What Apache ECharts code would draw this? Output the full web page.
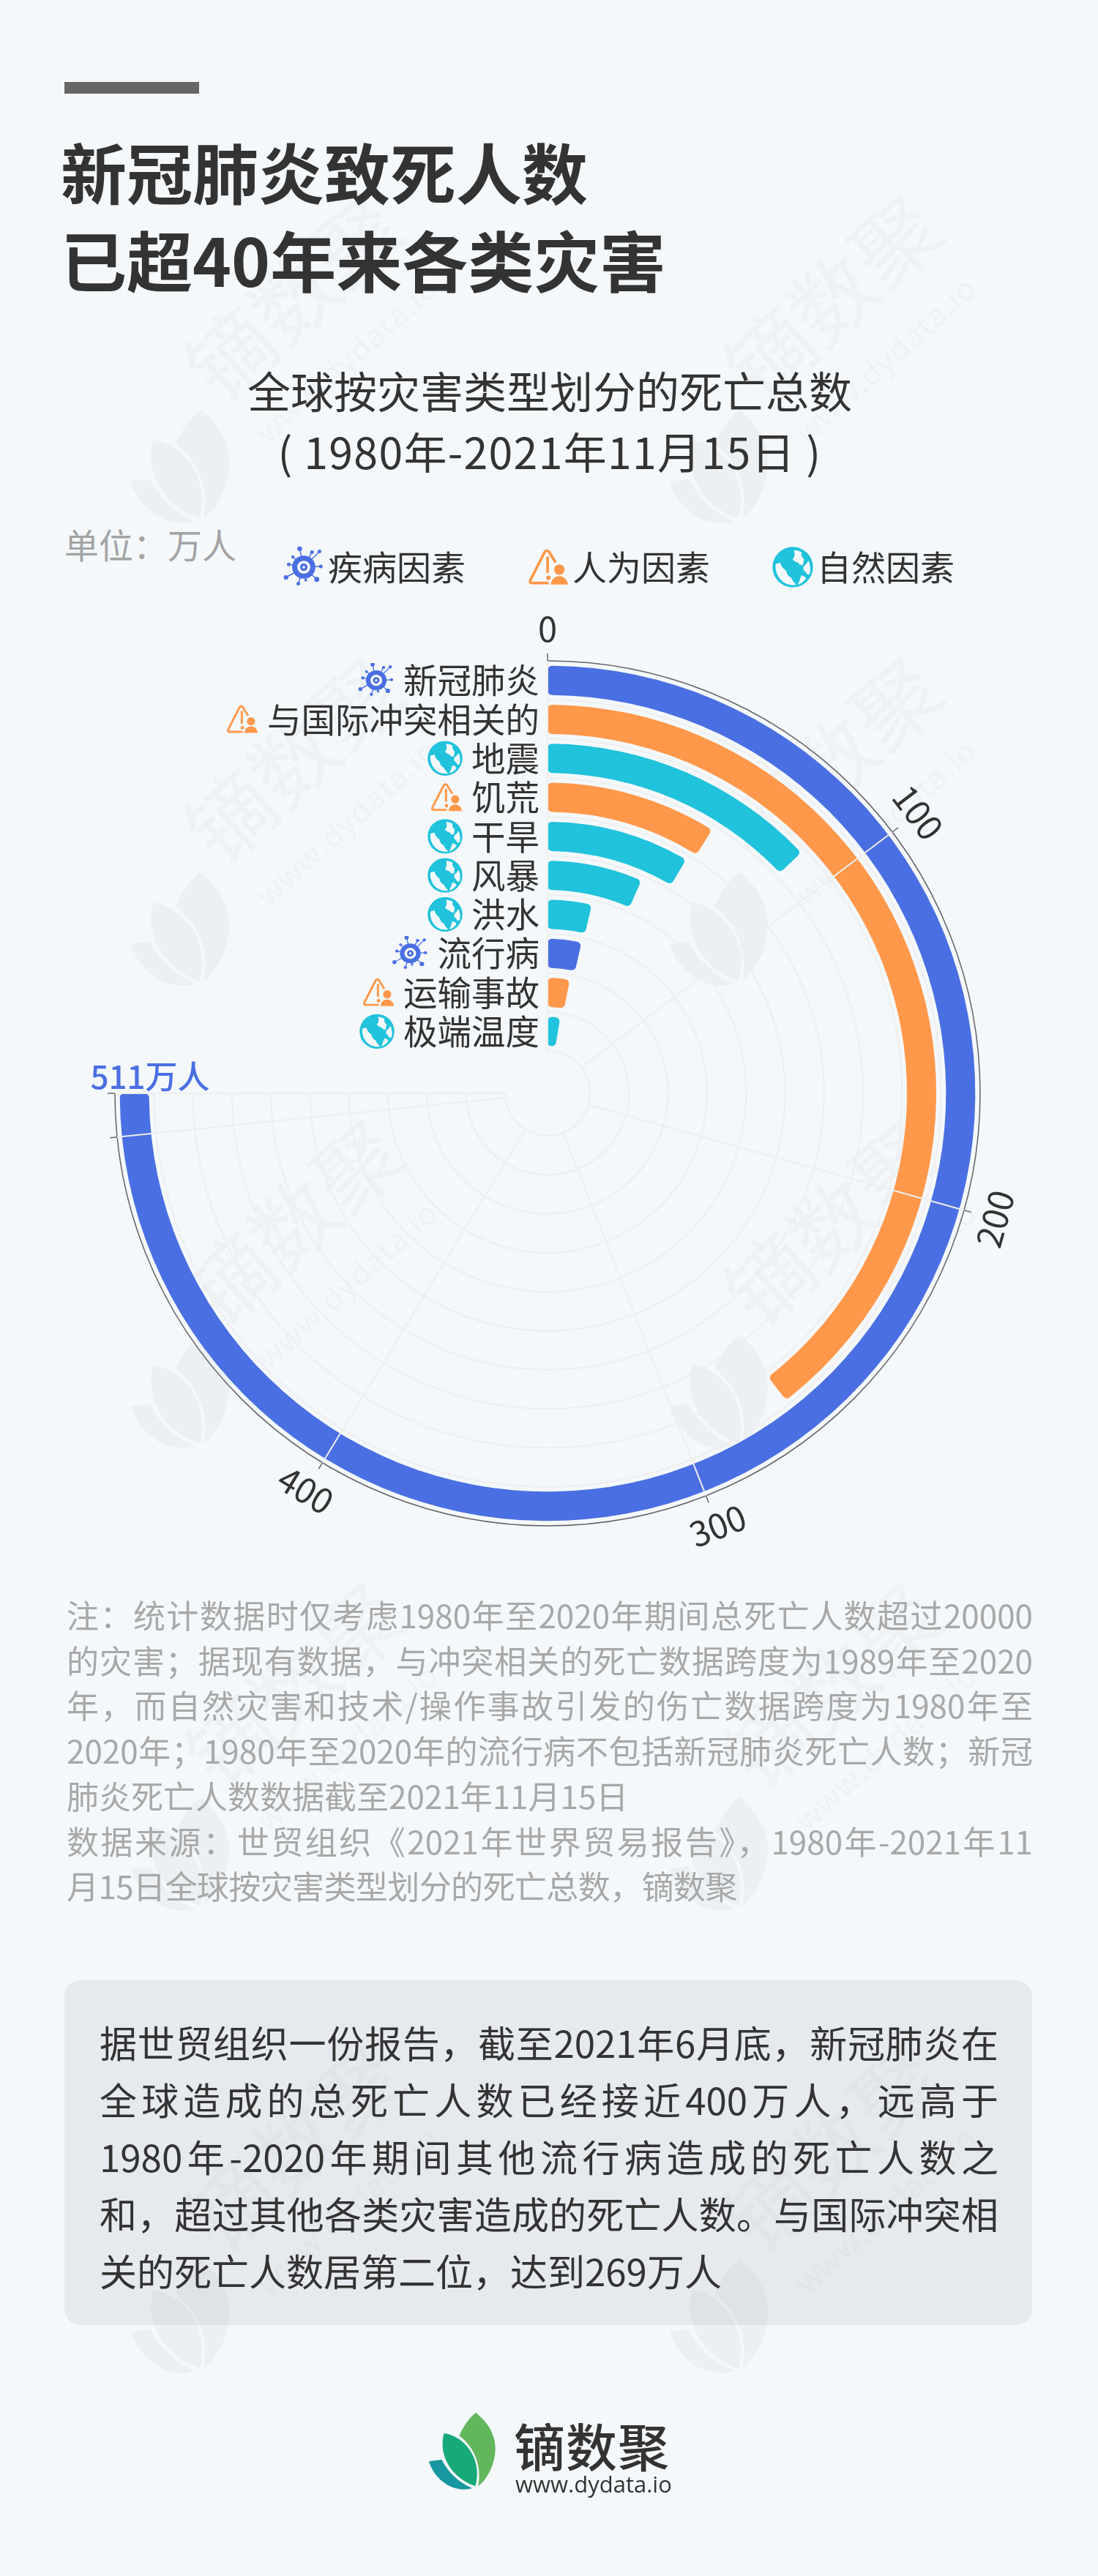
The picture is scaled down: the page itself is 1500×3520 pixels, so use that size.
<!DOCTYPE html>
<html lang="zh-CN">
<head>
<meta charset="utf-8">
<title>新冠肺炎致死人数已超40年来各类灾害</title>
<script src="https://cdn.jsdelivr.net/npm/echarts@6/dist/echarts.min.js"></script>
<style>
html,body{margin:0;padding:0;background:#f4f8fb;}
body{position:relative;width:1500px;height:3520px;overflow:hidden;font-family:"Noto Sans CJK SC","Noto Sans",sans-serif;color:#333;}
#wm,#main{position:absolute;left:0;top:0;width:1500px;height:3520px;}
.abs{position:absolute;white-space:nowrap;}
.bar{left:88px;top:112px;width:184px;height:16px;background:#666;}
.title{left:83px;font-size:90px;font-weight:700;line-height:120px;color:#333;}
.sub{left:0;width:1502px;text-align:center;font-size:59px;line-height:84px;color:#333;}
.unit{left:88px;top:713px;font-size:47px;line-height:60px;color:#a3a3a3;}
.note{left:91px;top:2176px;width:1320px;font-size:44px;line-height:61.7px;color:#a8a8a8;}
.box{left:88px;top:2706px;width:1322px;height:471px;background:rgba(120,125,130,.115);border-radius:22px;}
.say{left:136px;top:2751px;width:1228px;font-size:51px;line-height:78px;color:#333;}
.j{display:block;text-align:justify;text-align-last:justify;white-space:normal;}
.l{display:block;}
.logot{left:702px;top:3293px;font-size:70px;font-weight:500;line-height:96px;letter-spacing:1px;color:#333;}
.logou{left:704px;top:3372px;font-family:"Open Sans","Noto Sans",sans-serif;font-size:31px;line-height:44px;color:#333;}
</style>
</head>
<body>
<div id="wm"></div>
<div class="abs bar"></div>
<div class="abs title" style="top:173px">新冠肺炎致死人数</div>
<div class="abs title" style="top:293px">已超40年来各类灾害</div>
<div class="abs sub" style="top:491px">全球按灾害类型划分的死亡总数</div>
<div class="abs sub" style="top:574px;letter-spacing:1.3px">( 1980年-2021年11月15日 )</div>
<div class="abs unit">单位：万人</div>
<div id="main"></div>
<div class="abs note">
<span class="j">注：统计数据时仅考虑1980年至2020年期间总死亡人数超过20000</span>
<span class="j">的灾害；据现有数据，与冲突相关的死亡数据跨度为1989年至2020</span>
<span class="j">年，而自然灾害和技术/操作事故引发的伤亡数据跨度为1980年至</span>
<span class="j">2020年；1980年至2020年的流行病不包括新冠肺炎死亡人数；新冠</span>
<span class="l">肺炎死亡人数数据截至2021年11月15日</span>
<span class="j">数据来源：世贸组织《2021年世界贸易报告》，1980年-2021年11</span>
<span class="l" style="letter-spacing:-.6px">月15日全球按灾害类型划分的死亡总数，镝数聚</span>
</div>
<div class="abs box"></div>
<div class="abs say">
<span class="j">据世贸组织一份报告，截至2021年6月底，新冠肺炎在</span>
<span class="j">全球造成的总死亡人数已经接近400万人，远高于</span>
<span class="j">1980年-2020年期间其他流行病造成的死亡人数之</span>
<span class="j">和，超过其他各类灾害造成的死亡人数。与国际冲突相</span>
<span class="l">关的死亡人数居第二位，达到269万人</span>
</div>
<svg class="abs" style="left:570px;top:3280px" width="360" height="140" viewBox="0 0 1080 420">
<path fill="#62b75c" d="M240 50C290 90 320 140 320 195C320 260 290 320 250 352C262 290 250 205 172 145C190 105 210 75 240 50Z"/>
<path fill="#17a97a" d="M110 135C180 145 240 210 245 290C246 315 243 335 238 352C170 330 110 270 104 190C103 170 105 150 110 135Z"/>
<path fill="#1797a0" d="M48 250L100 243C130 300 170 335 225 360C200 368 170 367 140 355C95 335 60 295 48 250Z"/>
</svg>
<div class="abs logot">镝数聚</div>
<div class="abs logou">www.dydata.io</div>
<script>
var categories = ['新冠肺炎','与国际冲突相关的','地震','饥荒','干旱','风暴','洪水','流行病','运输事故','极端温度'];
var values = [511,269,88,60.5,58,45,25,24,21,18];
var types = ['疾病因素','人为因素','自然因素','人为因素','自然因素','自然因素','自然因素','疾病因素','人为因素','自然因素'];
var typeNames = ['疾病因素','人为因素','自然因素'];
var typeColors = ['#4a6fe3','#ff984a','#21c2db'];
var tickLabels = [0,100,200,300,400];

var FONT = '"Noto Sans CJK SC","Noto Sans",sans-serif';
var OUTER_R = 591;
var ANGLE_MAX = values[0];
var ANGLE_SWEEP = 270;

function svgUrl(s){
    return 'data:image/svg+xml;charset=utf-8,'+encodeURIComponent(s);
}
var virusBalls = [[24,3,3.5],[42,8,2.7],[53,7,2.7],[14,15,2.3],[8,26,2.7],[55,29,2.7],[4,45,3.3],[22,54,2.7],[33,49,2],[49,48,3.7]];
var virusSvg = '<svg xmlns="http://www.w3.org/2000/svg" width="120" height="120" viewBox="0 0 60 60"><g fill="#4a6fe3" stroke="#4a6fe3" stroke-width="1.6">';
virusBalls.forEach(function(b){
    virusSvg += '<line x1="30" y1="30" x2="'+b[0]+'" y2="'+b[1]+'"/><circle cx="'+b[0]+'" cy="'+b[1]+'" r="'+b[2]+'" stroke="none"/>';
});
virusSvg += '<circle cx="30" cy="30" r="17" stroke="none"/><circle cx="30" cy="30" r="9.5" fill="#fff" stroke="none"/><circle cx="30" cy="30" r="5.5" stroke="none"/><circle cx="30" cy="30" r="2" fill="#fff" stroke="none"/></g></svg>';

var warnSvg = '<svg xmlns="http://www.w3.org/2000/svg" width="165" height="150" viewBox="20 22 165 150">'
    +'<path d="M130 75L106 36Q97 24 88 36L30 150Q26 161 38 161L100 161" fill="none" stroke="#ff984a" stroke-width="11" stroke-linecap="round" stroke-linejoin="round"/>'
    +'<line x1="100" y1="58" x2="100" y2="116" stroke="#ff984a" stroke-width="11" stroke-linecap="round"/>'
    +'<circle cx="103" cy="140" r="9" fill="#ff984a"/><circle cx="147" cy="107" r="21" fill="#ff984a"/>'
    +'<path d="M112 167C116 145 130 133 147 133C164 133 178 145 182 167Z" fill="#ff984a"/></svg>';

var globeSvg = '<svg xmlns="http://www.w3.org/2000/svg" width="170" height="170" viewBox="0 0 170 170">'
    +'<circle cx="85" cy="85" r="84" fill="#21c2db"/>'
    +'<path d="M90 16C100 14 112 18 122 24C118 34 122 42 132 52C128 62 132 70 124 78C116 72 110 76 108 66C100 64 92 62 84 52C92 46 96 34 90 16Z" fill="#f4f8fb"/>'
    +'<path d="M14 72C24 68 28 70 34 66C36 80 46 92 58 100C60 112 66 124 78 128C84 142 92 150 100 158C70 164 40 150 24 122C16 106 12 88 14 72Z" fill="#f4f8fb"/>'
    +'<path d="M150 58C158 74 160 96 156 112C150 118 144 118 138 104C126 96 126 86 136 76C142 72 146 66 150 58Z" fill="#f4f8fb"/>'
    +'<path d="M120 120C130 118 136 124 140 132C130 146 118 154 106 158C112 146 116 132 120 120Z" fill="#f4f8fb"/>'
    +'</svg>';

var typeIcons = {'疾病因素':svgUrl(virusSvg),'人为因素':svgUrl(warnSvg),'自然因素':svgUrl(globeSvg)};
var iconKey = {'疾病因素':'virus','人为因素':'warn','自然因素':'globe'};

// 水印
function drawWatermark(){
    var leaf = '<path d="M240 50C290 90 320 140 320 195C320 260 290 320 250 352C262 290 250 205 172 145C190 105 210 75 240 50Z"/><path d="M110 135C180 145 240 210 245 290C246 315 243 335 238 352C170 330 110 270 104 190C103 170 105 150 110 135Z"/><path d="M48 250L100 243C130 300 170 335 225 360C200 368 170 367 140 355C95 335 60 295 48 250Z"/>';
    var html = '';
    for(var r=0;r<5;r++){
        for(var c=0;c<2;c++){
            var dx = c*736, dy = r*632;
            html += '<svg class="abs" style="left:'+(179+dx)+'px;top:'+(558+dy)+'px" width="134" height="159" viewBox="48 50 272 317" fill="#ecf0f3">'+leaf+'</svg>';
            html += '<div class="abs" style="left:'+(397+dx)+'px;top:'+(402+dy)+'px;font-size:116px;line-height:116px;color:#eff2f5;transform:translate(-50%,-50%) rotate(-42deg)">镝数聚</div>';
            html += '<div class="abs" style="left:'+(474+dx)+'px;top:'+(491+dy)+'px;font-family:\'Open Sans\',sans-serif;font-size:42px;line-height:42px;letter-spacing:2px;color:#eff2f5;transform:translate(-50%,-50%) rotate(-42deg)">www.dydata.io</div>';
        }
    }
    document.getElementById('wm').innerHTML = html;
}
drawWatermark();

function labelRotate(v){
    var a = v/ANGLE_MAX*ANGLE_SWEEP;
    return a<=90 ? -a : 180-a;
}

var series = typeNames.map(function(name,k){
    return {
        name:name,
        type:'bar',
        coordinateSystem:'polar',
        polarIndex:0,
        stack:'total',
        barWidth:40,
        data:values.map(function(v,i){ return types[i]==name ? v : null; }),
        itemStyle:{color:typeColors[k],borderRadius:6}
    };
});

// 刻度文字：随角度旋转
series.push({
    name:'tickText',
    type:'scatter',
    coordinateSystem:'polar',
    polarIndex:1,
    clip:false,
    silent:true,
    symbolSize:1,
    itemStyle:{color:'transparent',opacity:1},
    data:tickLabels.map(function(v){
        return {
            value:[OUTER_R+44,v],
            label:{show:true,position:'inside',formatter:String(v),rotate:labelRotate(v),fontFamily:FONT,fontSize:47,color:'#333'}
        };
    })
});
// 新冠肺炎末端数值
series.push({
    name:'peakText',
    type:'scatter',
    coordinateSystem:'polar',
    polarIndex:1,
    clip:false,
    silent:true,
    symbolSize:1,
    itemStyle:{color:'transparent',opacity:1},
    data:[{
        value:[OUTER_R-27,values[0]],
        label:{show:true,position:'inside',offset:[21,-23],formatter:values[0]+'万人',fontFamily:FONT,fontSize:44,fontWeight:500,color:typeColors[0]}
    }]
});

var rich = {t:{fontFamily:FONT,fontSize:46.5,color:'#333',padding:[0,0,0,12]}};
rich.virus = {width:50,height:48,backgroundColor:{image:typeIcons['疾病因素']}};
rich.warn = {width:44,height:40,backgroundColor:{image:typeIcons['人为因素']}};
rich.globe = {width:48,height:48,backgroundColor:{image:typeIcons['自然因素']}};

var myChart = echarts.init(document.getElementById('main'));
var option = {
    animation:false,
    backgroundColor:'transparent',
    textStyle:{fontFamily:FONT},
    legend:{
        left:382,
        top:742,
        itemWidth:56,
        itemHeight:56,
        itemGap:85,
        textStyle:{fontFamily:FONT,fontSize:47,color:'#333'},
        data:typeNames.map(function(n){ return {name:n,icon:'image://'+typeIcons[n]}; })
    },
    polar:[
        {center:[748,1494],radius:[58,OUTER_R]},
        {center:[748,1494],radius:[0,OUTER_R]}
    ],
    angleAxis:[
        {
            polarIndex:0,
            type:'value',
            min:0,
            max:ANGLE_MAX,
            interval:100,
            startAngle:90,
            endAngle:90-ANGLE_SWEEP,
            z:5,
            axisLine:{show:false},
            axisTick:{show:true,length:10,lineStyle:{color:'#666',width:1.5}},
            axisLabel:{show:false},
            splitLine:{show:true,lineStyle:{color:'#eeeeee',width:2}}
        },
        {
            // 内半径为0时外圈才是一段弧线
            polarIndex:1,
            type:'value',
            min:0,
            max:ANGLE_MAX,
            interval:100,
            startAngle:90,
            endAngle:90-ANGLE_SWEEP,
            axisLine:{show:true,lineStyle:{color:'#666',width:1.5}},
            axisTick:{show:false},
            axisLabel:{show:false},
            splitLine:{show:false}
        }
    ],
    radiusAxis:[
        {
            polarIndex:0,
            type:'category',
            inverse:true,
            data:categories,
            axisLine:{show:false},
            axisTick:{show:false},
            splitLine:{show:true,lineStyle:{color:'#eeeeee',width:2}},
            axisLabel:{
                margin:11,
                interval:0,
                formatter:function(v){
                    return '{'+iconKey[types[categories.indexOf(v)]]+'|}{t|'+v+'}';
                },
                rich:rich
            }
        },
        {
            polarIndex:1,
            type:'value',
            min:0,
            max:OUTER_R,
            axisLine:{show:false},
            axisTick:{show:false},
            axisLabel:{show:false},
            splitLine:{show:false}
        }
    ],
    series:series
};
myChart.setOption(option);
</script>
</body>
</html>
